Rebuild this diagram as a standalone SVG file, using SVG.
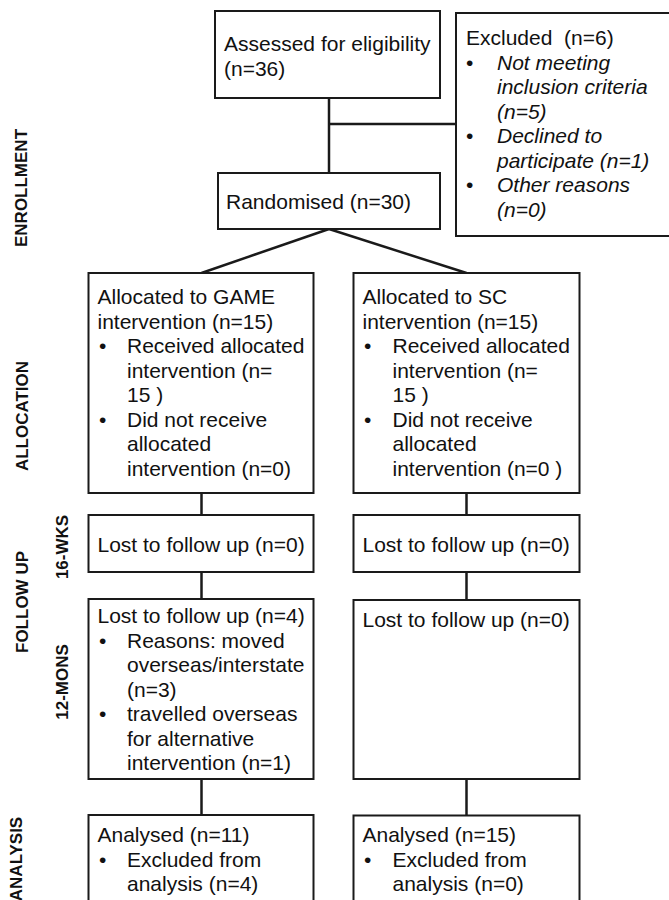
<svg xmlns="http://www.w3.org/2000/svg" width="669" height="900" viewBox="0 0 669 900">
  <style>
    .box { fill: #ffffff; stroke: #1a1a1a; stroke-width: 2; }
    .t { font-family: "Liberation Sans", Arial, sans-serif; font-size: 21px; fill: #111; }
    .i { font-style: italic; }
    .lbl { font-family: "Liberation Sans", Arial, sans-serif; font-size: 17px; font-weight: bold; fill: #111; text-anchor: middle; }
    .conn { stroke: #1a1a1a; stroke-width: 2.5; fill: none; }
  </style>
  <rect width="669" height="900" fill="#ffffff"/>

  <g id="stage-labels">
    <text class="lbl" transform="translate(21,188) rotate(-90)" dy="6">ENROLLMENT</text>
    <text class="lbl" transform="translate(22,416) rotate(-90)" dy="6">ALLOCATION</text>
    <text class="lbl" transform="translate(22,602) rotate(-90)" dy="6">FOLLOW UP</text>
    <text class="lbl" transform="translate(62,547) rotate(-90)" dy="6">16-WKS</text>
    <text class="lbl" transform="translate(62,682) rotate(-90)" dy="6">12-MONS</text>
    <text class="lbl" transform="translate(16,859) rotate(-90)" dy="6">ANALYSIS</text>
  </g>

  <g id="connectors">
    <line class="conn" x1="329" y1="98" x2="329" y2="173"/>
    <line class="conn" x1="329" y1="124" x2="456" y2="124"/>
    <line class="conn" x1="329" y1="229" x2="201.5" y2="273"/>
    <line class="conn" x1="329" y1="229" x2="466.5" y2="273"/>
    <line class="conn" x1="201.5" y1="493" x2="201.5" y2="515"/>
    <line class="conn" x1="201.5" y1="572" x2="201.5" y2="599"/>
    <line class="conn" x1="201.5" y1="779" x2="201.5" y2="815"/>
    <line class="conn" x1="466.5" y1="493" x2="466.5" y2="515"/>
    <line class="conn" x1="466.5" y1="572" x2="466.5" y2="600"/>
    <line class="conn" x1="466.5" y1="779" x2="466.5" y2="815"/>
  </g>

  <g id="assessed">
    <rect class="box" x="215" y="11" width="225" height="87"/>
    <text class="t" x="224" y="51">Assessed for eligibility</text>
    <text class="t" x="224" y="75.5">(n=36)</text>
  </g>

  <g id="excluded">
    <rect class="box" x="456" y="13" width="220" height="223"/>
    <text class="t" x="466" y="45" xml:space="preserve">Excluded  (n=6)</text>
    <text class="t" x="466" y="69.5">•</text>
    <text class="t i" x="497" y="69.5">Not meeting</text>
    <text class="t i" x="497" y="94">inclusion criteria</text>
    <text class="t i" x="497" y="118.5">(n=5)</text>
    <text class="t" x="466" y="143">•</text>
    <text class="t i" x="497" y="143">Declined to</text>
    <text class="t i" x="497" y="167.5">participate (n=1)</text>
    <text class="t" x="466" y="192">•</text>
    <text class="t i" x="497" y="192">Other reasons</text>
    <text class="t i" x="497" y="216.5">(n=0)</text>
  </g>

  <g id="randomised">
    <rect class="box" x="218" y="173" width="222" height="56"/>
    <text class="t" x="226" y="209">Randomised (n=30)</text>
  </g>

  <g id="alloc-game">
    <rect class="box" x="88.5" y="273" width="225" height="220"/>
    <text class="t" x="97.5" y="304">Allocated to GAME</text>
    <text class="t" x="97.5" y="328.5">intervention (n=15)</text>
    <text class="t" x="99" y="353">•</text>
    <text class="t" x="127" y="353">Received allocated</text>
    <text class="t" x="127" y="377.5">intervention (n=</text>
    <text class="t" x="127" y="402">15 )</text>
    <text class="t" x="99" y="426.5">•</text>
    <text class="t" x="127" y="426.5">Did not receive</text>
    <text class="t" x="127" y="451">allocated</text>
    <text class="t" x="127" y="475.5">intervention (n=0)</text>
  </g>

  <g id="alloc-sc">
    <rect class="box" x="353.5" y="273" width="226" height="220"/>
    <text class="t" x="362.5" y="304">Allocated to SC</text>
    <text class="t" x="362.5" y="328.5">intervention (n=15)</text>
    <text class="t" x="364" y="353">•</text>
    <text class="t" x="392.5" y="353">Received allocated</text>
    <text class="t" x="392.5" y="377.5">intervention (n=</text>
    <text class="t" x="392.5" y="402">15 )</text>
    <text class="t" x="364" y="426.5">•</text>
    <text class="t" x="392.5" y="426.5">Did not receive</text>
    <text class="t" x="392.5" y="451">allocated</text>
    <text class="t" x="392.5" y="475.5">intervention (n=0 )</text>
  </g>

  <g id="fu16-game">
    <rect class="box" x="88.5" y="515" width="225" height="57"/>
    <text class="t" x="97.5" y="552">Lost to follow up (n=0)</text>
  </g>

  <g id="fu16-sc">
    <rect class="box" x="353.5" y="515" width="226" height="57"/>
    <text class="t" x="362.5" y="552">Lost to follow up (n=0)</text>
  </g>

  <g id="fu12-game">
    <rect class="box" x="88.5" y="599" width="225" height="180"/>
    <text class="t" x="97.5" y="623">Lost to follow up (n=4)</text>
    <text class="t" x="99" y="647.5">•</text>
    <text class="t" x="127" y="647.5">Reasons: moved</text>
    <text class="t" x="127" y="672">overseas/interstate</text>
    <text class="t" x="127" y="696.5">(n=3)</text>
    <text class="t" x="99" y="721">•</text>
    <text class="t" x="127" y="721">travelled overseas</text>
    <text class="t" x="127" y="745.5">for alternative</text>
    <text class="t" x="127" y="770">intervention (n=1)</text>
  </g>

  <g id="fu12-sc">
    <rect class="box" x="353.5" y="600" width="226" height="179"/>
    <text class="t" x="362.5" y="627">Lost to follow up (n=0)</text>
  </g>

  <g id="analysis-game">
    <rect class="box" x="88.5" y="815" width="225" height="100"/>
    <text class="t" x="97.5" y="842">Analysed (n=11)</text>
    <text class="t" x="99" y="866.5">•</text>
    <text class="t" x="127" y="866.5">Excluded from</text>
    <text class="t" x="127" y="891">analysis (n=4)</text>
  </g>

  <g id="analysis-sc">
    <rect class="box" x="353.5" y="815.5" width="226" height="100"/>
    <text class="t" x="362.5" y="842">Analysed (n=15)</text>
    <text class="t" x="364" y="866.5">•</text>
    <text class="t" x="392.5" y="866.5">Excluded from</text>
    <text class="t" x="392.5" y="891">analysis (n=0)</text>
  </g>
</svg>
